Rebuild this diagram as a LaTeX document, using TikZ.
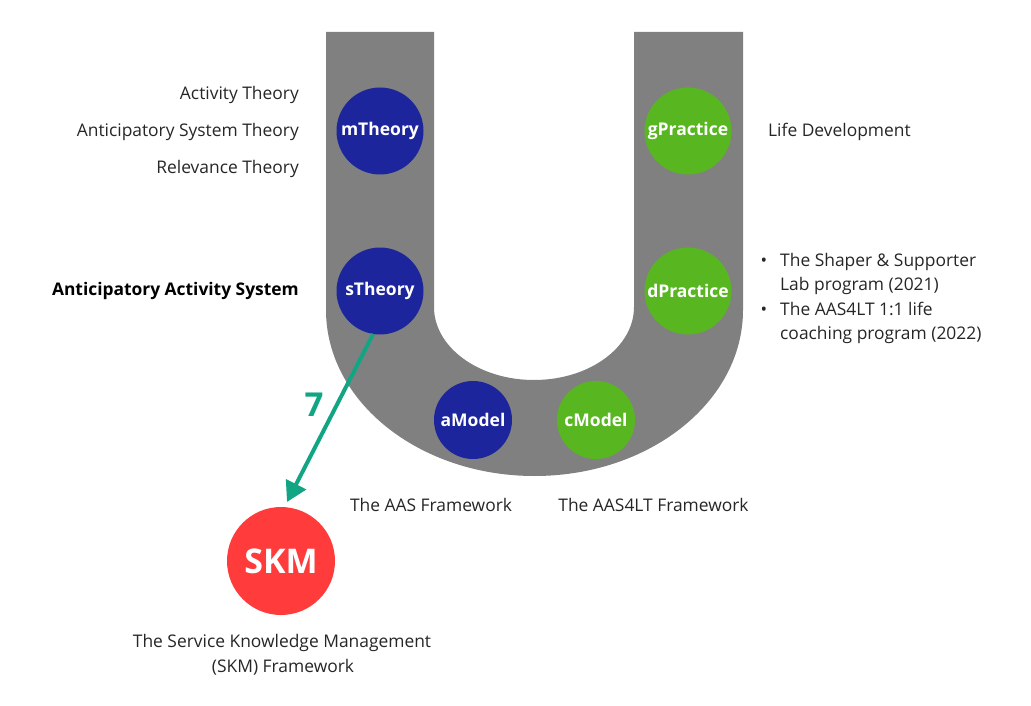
\documentclass[tikz,border=0pt]{standalone}
\usepackage{fontspec}
\setmainfont{Open Sans}
\usetikzlibrary{arrows.meta}
\definecolor{navy}{HTML}{1C259B}
\definecolor{lgreen}{HTML}{58B721}
\definecolor{ugray}{HTML}{808080}
\definecolor{skmred}{HTML}{FF3B3B}
\definecolor{teal7}{HTML}{12A584}
\tikzset{
  dot/.style={circle, minimum size=87pt, inner sep=0pt, outer sep=0pt, text=white, font=\fontsize{17.5}{20}\selectfont\bfseries},
  theory/.style={dot, fill=navy},
  practice/.style={dot, fill=lgreen},
  modeldot/.style={dot, minimum size=78pt},
  lbl/.style={inner sep=0pt, font=\fontsize{17.4}{20}\selectfont, text=black!85},
  conn/.style={draw=teal7, line width=4pt, -{Triangle[length=20pt,width=22pt]}}
}
\begin{document}
\begin{tikzpicture}[x=1pt,y=1pt]
\useasboundingbox (0,0) rectangle (1031,-706);
% U shape
\fill[ugray] (326,-32) -- (326,-310)
  arc[start angle=180,end angle=360,x radius=208.5pt,y radius=166pt]
  -- (743,-32) -- (634,-32) -- (634,-307)
  arc[start angle=0,end angle=-180,x radius=100pt,y radius=73pt]
  -- (434,-32) -- cycle;
% circles
\node[theory] (mT) at (380,-131) {mTheory};
\node[theory] (sT) at (380,-291) {sTheory};
\node[practice] (gP) at (688,-131) {gPractice};
\node[practice] (dP) at (688,-291) {dPractice};
\node[theory,modeldot] (aM) at (473,-420) {aModel};
\node[practice,modeldot] (cM) at (596,-420) {cModel};
\node[circle, minimum size=108pt, inner sep=0pt, outer sep=0pt, fill=skmred, text=white, font=\fontsize{34}{38}\selectfont\bfseries] (skm) at (281,-561) {SKM};
% arrow
\coordinate (tip) at (287,-502);
\draw[conn] (sT.-99) -- (tip);
\node[text=teal7, font=\fontsize{33}{36}\selectfont\bfseries, inner sep=0pt] (seven) at (314,-405) {7};
% left labels
\node[lbl, anchor=base east] (l1) at (299,-100) {Activity Theory};
\node[lbl, anchor=base east] (l2) at (299,-137) {Anticipatory System Theory};
\node[lbl, anchor=base east] (l3) at (299,-174) {Relevance Theory};
\node[lbl, anchor=base east, font=\fontsize{17.4}{20}\selectfont\bfseries, text=black] (l4) at (299,-295) {Anticipatory Activity System};
% right labels
\node[lbl, anchor=base west] (r1) at (768,-137) {Life Development};
\node[lbl, anchor=base] (b1) at (764,-266) {•};
\node[lbl, anchor=base west] (r2) at (780,-266) {The Shaper \& Supporter};
\node[lbl, anchor=base west] (r3) at (780,-290) {Lab program (2021)};
\node[lbl, anchor=base] (b2) at (764,-315) {•};
\node[lbl, anchor=base west] (r4) at (780,-315) {The AAS4LT 1:1 life};
\node[lbl, anchor=base west] (r5) at (780,-339) {coaching program (2022)};
% bottom labels
\node[lbl, anchor=base] (f1) at (431,-511) {The AAS Framework};
\node[lbl, anchor=base] (f2) at (653.5,-511) {The AAS4LT Framework};
\node[lbl, anchor=base] (s1) at (282,-647) {The Service Knowledge Management};
\node[lbl, anchor=base] (s2) at (283,-672) {(SKM) Framework};
\end{tikzpicture}
\end{document}
